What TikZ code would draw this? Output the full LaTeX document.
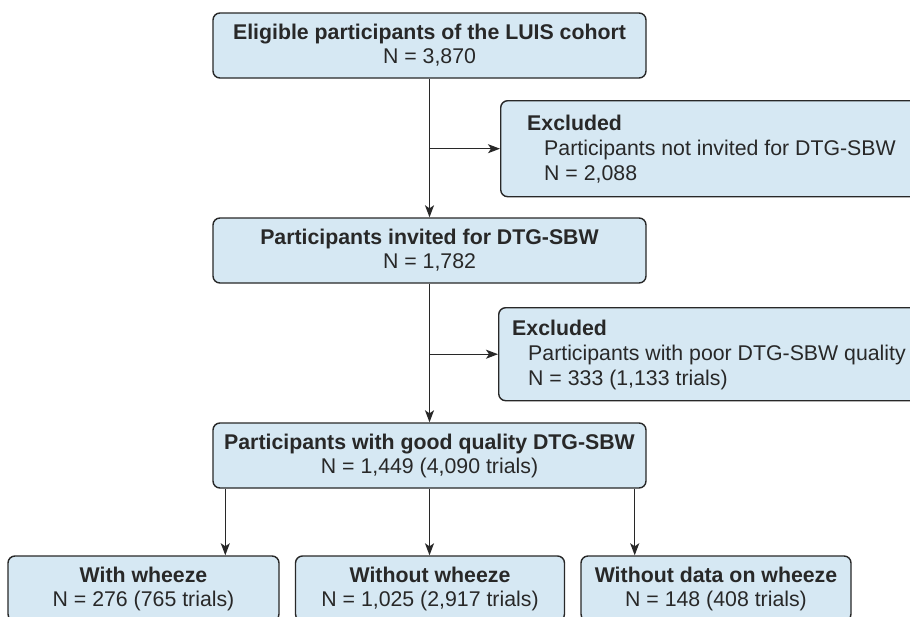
\documentclass[tikz,border=0pt]{standalone}
\usepackage{fontspec}
\setmainfont{Liberation Sans}
\usetikzlibrary{arrows.meta}
\definecolor{boxfill}{RGB}{214,232,243}
\definecolor{linec}{RGB}{40,40,40}
\tikzset{
  x=1pt, y=-1pt,
  box/.style={draw=linec, fill=boxfill, line width=1.4pt, rounded corners=7pt,
    inner sep=0pt, align=center, font=\fontsize{21.3}{24}\selectfont, text=linec},
  exbox/.style={draw=linec, fill=boxfill, line width=1.4pt, rounded corners=7pt,
    inner sep=0pt, anchor=north west},
  extext/.style={anchor=base west, inner sep=0pt, font=\fontsize{21.3}{25}\selectfont, text=linec},
  conn/.style={draw=linec, line width=1.4pt, -{Stealth[length=12pt,width=9pt,inset=3pt]}}
}
\begin{document}
\begin{tikzpicture}
\clip (0,0) rectangle (910,616);
\fill[white] (0,0) rectangle (910,616);

\node[box, minimum width=433pt, minimum height=65pt] (b1) at (429.5,45.5)
  {\textbf{Eligible participants of the LUIS cohort}\\N = 3,870};
\node[box, minimum width=433pt, minimum height=65pt] (b2) at (429.5,250.5)
  {\textbf{Participants invited for DTG-SBW}\\N = 1,782};
\node[box, minimum width=433pt, minimum height=65pt] (b3) at (429.5,455.5)
  {\textbf{Participants with good quality DTG-SBW}\\N = 1,449 (4,090 trials)};

\node[exbox, minimum width=460pt, minimum height=96pt] (ex1) at (500,100) {};
\node[extext] (ex1a) at (527,130.5) {\textbf{Excluded}};
\node[extext] (ex1b) at (544,155.5) {Participants not invited for DTG-SBW};
\node[extext] (ex1c) at (544,180.5) {N = 2,088};

\node[exbox, minimum width=460pt, minimum height=93pt] (ex2) at (498,307) {};
\node[extext] (ex2a) at (512,335.5) {\textbf{Excluded}};
\node[extext] (ex2b) at (528,360.5) {Participants with poor DTG-SBW quality};
\node[extext] (ex2c) at (528,385.5) {N = 333 (1,133 trials)};

\node[box, minimum width=271pt, minimum height=65pt] (wa) at (143.5,588.5)
  {\textbf{With wheeze}\\N = 276 (765 trials)};
\node[box, minimum width=269pt, minimum height=65pt] (wb) at (430,588.5)
  {\textbf{Without wheeze}\\N = 1,025 (2,917 trials)};
\node[box, minimum width=270pt, minimum height=65pt] (wc) at (716,588.5)
  {\textbf{Without data on wheeze}\\N = 148 (408 trials)};

\draw[conn] (b1.south) -- (b2.north);
\draw[conn] (b1.south |- ex1.west) -- (ex1.west);
\draw[conn] (b2.south) -- (b3.north);
\draw[conn] (b2.south |- ex2.west) -- (ex2.west);

\draw[conn] ([xshift=13pt]b3.south west) -- ([xshift=13pt]b3.south west |- wa.north);
\draw[conn] (b3.south) -- (b3.south |- wb.north);
\draw[conn] ([xshift=-12pt]b3.south east) -- ([xshift=-12pt]b3.south east |- wc.north);
\end{tikzpicture}
\end{document}
